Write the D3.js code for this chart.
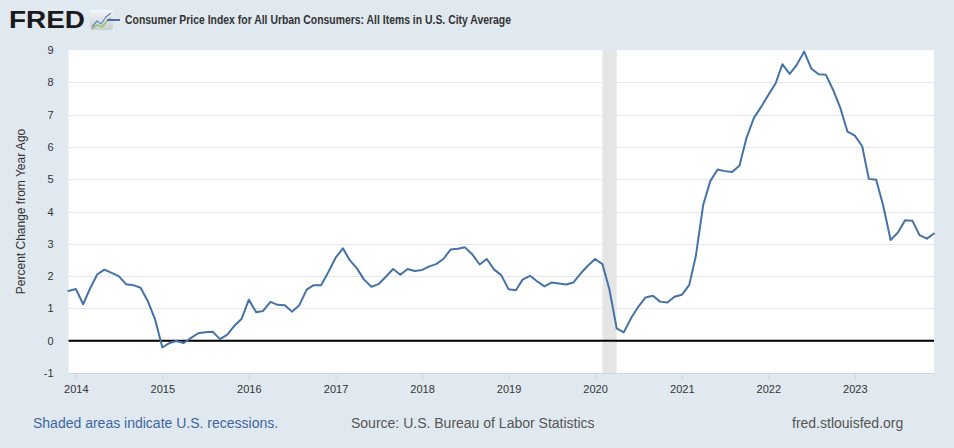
<!DOCTYPE html>
<html>
<head>
<meta charset="utf-8">
<script src="https://cdn.jsdelivr.net/npm/d3@7"></script>
<style>
  html, body { margin: 0; padding: 0; background: #e1e9f0; }
  svg { display: block; font-family: "Liberation Sans", Arial, Helvetica, sans-serif; }
</style>
</head>
<body>
<svg id="chart" width="954" height="448"></svg>
<script>
// ---- data (monthly, Dec 2013 .. Dec 2023), percent change from year ago ----
const startMonth = "2013-12";
const values2013 = [1.54];
const values2014 = [1.60, 1.13, 1.60, 2.05, 2.20, 2.10, 2.00, 1.75, 1.72, 1.64, 1.22, 0.67];
const values2015 = [-0.21, -0.07, -0.01, -0.07, 0.08, 0.23, 0.26, 0.28, 0.05, 0.18, 0.46, 0.67];
const values2016 = [1.27, 0.88, 0.92, 1.20, 1.11, 1.10, 0.90, 1.10, 1.58, 1.72, 1.72, 2.12];
const values2017 = [2.57, 2.86, 2.50, 2.24, 1.89, 1.67, 1.75, 1.98, 2.22, 2.04, 2.22, 2.16];
const values2018 = [2.19, 2.30, 2.37, 2.53, 2.82, 2.85, 2.89, 2.67, 2.36, 2.53, 2.20, 2.03];
const values2019 = [1.59, 1.56, 1.89, 2.01, 1.84, 1.68, 1.80, 1.77, 1.74, 1.80, 2.08, 2.32];
const values2020 = [2.53, 2.37, 1.60, 0.38, 0.26, 0.70, 1.05, 1.34, 1.39, 1.21, 1.18, 1.36];
const values2021 = [1.42, 1.72, 2.62, 4.20, 4.94, 5.30, 5.25, 5.22, 5.42, 6.28, 6.90, 7.23];
const values2022 = [7.61, 7.97, 8.56, 8.26, 8.54, 8.95, 8.43, 8.25, 8.23, 7.77, 7.20, 6.47];
const values2023 = [6.35, 6.02, 5.01, 4.98, 4.17, 3.12, 3.34, 3.73, 3.71, 3.27, 3.16, 3.32];

const recessions = [["2020-02-01", "2020-04-01"]];
const yTicks = [-1, 0, 1, 2, 3, 4, 5, 6, 7, 8, 9];
const xTickYears = [2014, 2015, 2016, 2017, 2018, 2019, 2020, 2021, 2022, 2023];

const seriesTitle = "Consumer Price Index for All Urban Consumers: All Items in U.S. City Average";
const yAxisTitle = "Percent Change from Year Ago";
const footerLeft = "Shaded areas indicate U.S. recessions.";
const footerMid = "Source: U.S. Bureau of Labor Statistics";
const footerRight = "fred.stlouisfed.org";

// ---- build series ----
const allValues = [].concat(values2013, values2014, values2015, values2016, values2017,
  values2018, values2019, values2020, values2021, values2022, values2023);
const parseMonth = d3.timeParse("%Y-%m");
const start = parseMonth(startMonth);
const data = allValues.map((v, i) => ({ date: d3.timeMonth.offset(start, i), value: v }));

// ---- layout ----
const plot = { left: 68.5, right: 934, top: 50, bottom: 373 };
const svg = d3.select("#chart");

const x = d3.scaleTime()
  .domain([data[0].date, data[data.length - 1].date])
  .range([plot.left, plot.right]);
const y = d3.scaleLinear().domain([-1, 9]).range([plot.bottom, plot.top]);

// plot background
svg.append("rect")
  .attr("x", plot.left).attr("y", plot.top)
  .attr("width", plot.right - plot.left).attr("height", plot.bottom - plot.top)
  .attr("fill", "#ffffff");

// recession shading
svg.append("g").selectAll("rect").data(recessions).join("rect")
  .attr("x", d => x(new Date(d[0] + "T00:00:00")))
  .attr("width", d => x(new Date(d[1] + "T00:00:00")) - x(new Date(d[0] + "T00:00:00")))
  .attr("y", plot.top).attr("height", plot.bottom - plot.top)
  .attr("fill", "#e5e5e5");

// horizontal gridlines
svg.append("g").selectAll("line").data(yTicks.filter(t => t > -1 && t < 9)).join("line")
  .attr("x1", plot.left).attr("x2", plot.right)
  .attr("y1", d => Math.round(y(d)) + 0.5).attr("y2", d => Math.round(y(d)) + 0.5)
  .attr("stroke", "#e6e6e6").attr("stroke-width", 1);

// y axis labels
const yAxis = d3.axisLeft(y).tickValues(yTicks).tickSize(0).tickPadding(0).tickFormat(d => String(d));
const gy = svg.append("g").attr("transform", `translate(${plot.left - 15},0)`).call(yAxis);
gy.select(".domain").remove();
gy.selectAll("text").attr("fill", "#333333").attr("font-size", 11)
  .attr("font-family", "Liberation Sans, Arial, sans-serif");

// x axis
const xAxis = d3.axisBottom(x)
  .tickValues(xTickYears.map(yr => new Date(yr, 0, 1)))
  .tickSize(7).tickPadding(5)
  .tickFormat(d3.timeFormat("%Y"));
const gx = svg.append("g").attr("transform", `translate(0,${plot.bottom})`).call(xAxis);
gx.select(".domain").attr("stroke", "#ccd6eb").attr("d", `M${plot.left},0.5H${plot.right}`);
gx.selectAll(".tick line").attr("stroke", "#ccd6eb");
gx.selectAll("text").attr("fill", "#333333").attr("font-size", 11)
  .attr("font-family", "Liberation Sans, Arial, sans-serif");

// zero line
svg.append("line")
  .attr("x1", plot.left).attr("x2", plot.right)
  .attr("y1", y(0)).attr("y2", y(0))
  .attr("stroke", "#000000").attr("stroke-width", 2);

// series line
const line = d3.line().x(d => x(d.date)).y(d => y(d.value));
svg.append("path").datum(data)
  .attr("d", line)
  .attr("fill", "none")
  .attr("stroke", "#4572a7")
  .attr("stroke-width", 2)
  .attr("stroke-linejoin", "round")
  .attr("stroke-linecap", "round");

// y axis title
svg.append("text")
  .attr("transform", `translate(25,${(plot.top + plot.bottom) / 2}) rotate(-90)`)
  .attr("text-anchor", "middle")
  .attr("font-size", 12)
  .attr("fill", "#333333")
  .text(yAxisTitle);

// header: FRED logo
svg.append("text")
  .attr("x", 9).attr("y", 28)
  .attr("font-size", 23).attr("font-weight", 900)
  .attr("fill", "#1a1a1a")
  .attr("textLength", 76).attr("lengthAdjust", "spacingAndGlyphs")
  .text("FRED");
const defs = svg.append("defs");
const grad = defs.append("linearGradient").attr("id", "icoGrad").attr("x1", 0).attr("y1", 0).attr("x2", 0).attr("y2", 1);
grad.append("stop").attr("offset", "0%").attr("stop-color", "#f4f6f8");
grad.append("stop").attr("offset", "100%").attr("stop-color", "#c9ced3");
svg.append("rect").attr("x", 90).attr("y", 10).attr("width", 23).attr("height", 20).attr("rx", 2)
  .attr("fill", "url(#icoGrad)");
svg.append("path").attr("d", "M92,27 L97,21 L101,24 L106,17 L111,13")
  .attr("fill", "none").attr("stroke", "#5b86c5").attr("stroke-width", 1.2);
svg.append("path").attr("d", "M92,29 L97,25 L102,27 L107,21 L111,18")
  .attr("fill", "none").attr("stroke", "#8cbf55").attr("stroke-width", 1.2);

// legend line + title
svg.append("line").attr("x1", 107).attr("x2", 120).attr("y1", 20).attr("y2", 20)
  .attr("stroke", "#4572a7").attr("stroke-width", 2);
svg.append("text")
  .attr("x", 125).attr("y", 24)
  .attr("font-size", 12).attr("font-weight", "bold")
  .attr("fill", "#333333")
  .attr("textLength", 386).attr("lengthAdjust", "spacingAndGlyphs")
  .text(seriesTitle);

// footer
svg.append("text").attr("x", 33).attr("y", 428).attr("font-size", 14)
  .attr("fill", "#3b66a3").text(footerLeft);
svg.append("text").attr("x", 351).attr("y", 428).attr("font-size", 14)
  .attr("fill", "#555555").text(footerMid);
svg.append("text").attr("x", 792).attr("y", 428).attr("font-size", 14)
  .attr("fill", "#555555").text(footerRight);
</script>
</body>
</html>
